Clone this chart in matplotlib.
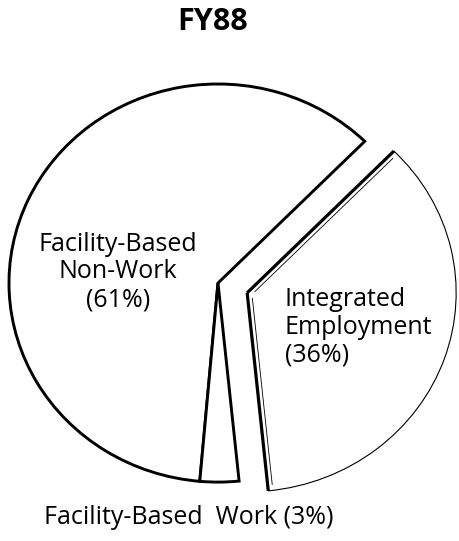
import numpy as np
import matplotlib.pyplot as plt

plt.rcParams['font.family'] = ['Open Sans', 'DejaVu Sans']

title = "FY88"
labels = ["Facility-Based\nNon-Work\n(61%)",
          "Facility-Based  Work (3%)",
          "Integrated\nEmployment\n(36%)"]
shares = [61, 3, 36]
explode = [0, 0, 0.148]

fig = plt.figure(figsize=(4.6, 5.41), dpi=100)
ax = fig.add_axes([0, 0, 1, 1])

wedges, _ = ax.pie(shares, startangle=45.4, counterclock=True, explode=explode,
                   radius=1,
                   wedgeprops=dict(facecolor="white", edgecolor="black", linewidth=2.1))

# exploded slice: thin arc, heavy straight edges with a faint inner line
w = wedges[2]
w.set_linewidth(0.8)
cx, cy = w.center
for th, side in ((w.theta1, 1), (w.theta2, -1)):
    t = np.deg2rad(th)
    ax.plot([cx, cx + w.r*np.cos(t)], [cy, cy + w.r*np.sin(t)],
            color="black", lw=2.3, solid_capstyle="butt", zorder=5)
    # thin parallel line just inside the slice
    nx, ny = -np.sin(t)*side*0.022, np.cos(t)*side*0.022
    ax.plot([cx + nx + 0.03*np.cos(t), cx + nx + 0.97*w.r*np.cos(t)],
            [cy + ny + 0.03*np.sin(t), cy + ny + 0.97*w.r*np.sin(t)],
            color="black", lw=0.6, zorder=5)

# scanned pie is a little wider than tall
ax.set_aspect("auto")
ax.set_xlim(-1.043, 1.158)
ax.set_ylim(-1.296, 1.422)
ax.axis("off")

fig.text(213/460, 1 - 22/541, title, ha="center", va="center",
         fontsize=22, fontweight="bold")
fig.text(118/460, 1 - 272/541, labels[0], ha="center", va="center",
         multialignment="center", fontsize=18, linespacing=1.15)
fig.text(285/460, 1 - 327/541, labels[2], ha="left", va="center",
         multialignment="left", fontsize=18, linespacing=1.15)
fig.text(189/460, 1 - 517/541, labels[1], ha="center", va="center", fontsize=18)

plt.savefig("out.png", dpi=100)
